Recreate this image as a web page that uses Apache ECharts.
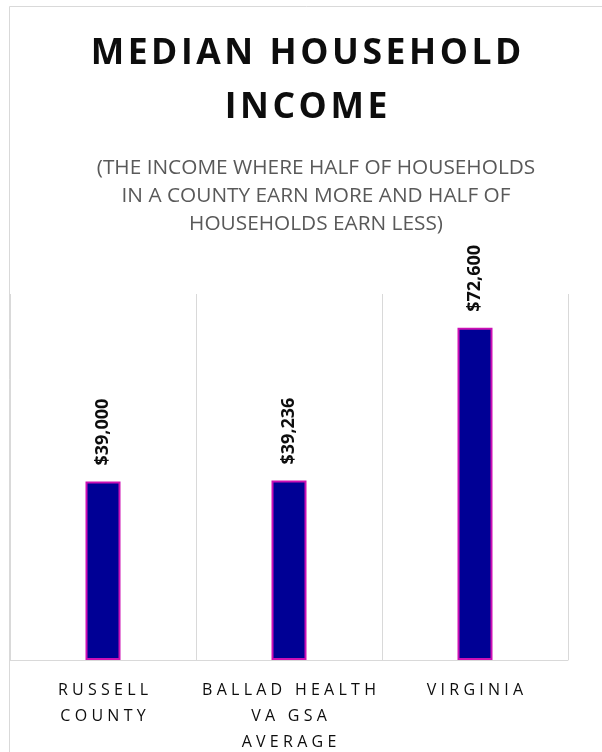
<!DOCTYPE html>
<html>
<head>
<meta charset="utf-8">
<script src="https://cdn.jsdelivr.net/npm/echarts@6/dist/echarts.min.js"></script>
<style>
html,body{margin:0;padding:0;background:#fff;}
#chart{width:602px;height:752px;}
</style>
</head>
<body>
<div id="chart"></div>
<script>
// ---- data ----
var categories = ["RUSSELL\nCOUNTY", "BALLAD HEALTH\nVA GSA\nAVERAGE", "VIRGINIA"];
var incomes = [39000, 39236, 72600];
var valueLabels = ["$39,000", "$39,236", "$72,600"];
var titleLines = ["MEDIAN HOUSEHOLD", "INCOME"];
var subtitleLines = ["(THE INCOME WHERE HALF OF HOUSEHOLDS", "IN A COUNTY EARN MORE AND HALF OF", "HOUSEHOLDS EARN LESS)"];

// spacing helper (emulates letter spacing using narrow spaces)
function spaced(s, sep) {
  return s.split("\n").map(function (line) { return line.split("").join(sep); }).join("\n");
}

var chart = echarts.init(document.getElementById('chart'), null, {renderer: 'canvas'});
var option = {
  animation: false,
  backgroundColor: '#ffffff',
  title: [
    {
      text: spaced(titleLines.join("\n"), "\u200A"),
      left: 306,
      top: 27,
      padding: 0,
      textAlign: 'center',
      textStyle: {
        fontFamily: 'Open Sans',
        fontWeight: 'bold',
        fontSize: 35.5,
        lineHeight: 54,
        color: '#0d0d0d'
      }
    },
    {
      text: subtitleLines.join("\n"),
      left: 316,
      top: 154,
      padding: 0,
      textAlign: 'center',
      textStyle: {
        fontFamily: 'Open Sans',
        fontWeight: 'normal',
        fontSize: 20.8,
        lineHeight: 28,
        color: '#595959'
      }
    }
  ],
  graphic: [
    {
      type: 'rect',
      shape: {x: 9.5, y: 6.5, width: 700, height: 800},
      style: {fill: 'none', stroke: '#d9d9d9', lineWidth: 1},
      silent: true,
      z: -1
    }
  ],
  grid: {left: 10, right: 34, top: 294, bottom: 92, outerBoundsMode: 'none', containLabel: false},
  xAxis: {
    type: 'category',
    data: categories,
    axisLine: {show: true, lineStyle: {color: '#d9d9d9', width: 1}},
    axisTick: {show: false},
    splitLine: {show: true, lineStyle: {color: '#d9d9d9', width: 1}},
    axisLabel: {
      interval: 0,
      margin: 17,
      fontFamily: 'Open Sans',
      fontSize: 16,
      lineHeight: 26,
      color: '#0d0d0d',
      formatter: function (v) { return spaced(v, "\u2009\u200A"); }
    }
  },
  yAxis: {
    type: 'value',
    min: 0,
    max: 80000,
    interval: 20000,
    show: false,
    splitLine: {show: false}
  },
  series: [
    {
      type: 'bar',
      data: incomes,
      barWidth: 35,
      itemStyle: {color: '#000095', borderColor: '#cc10b4', borderWidth: 2},
      label: {
        show: true,
        position: 'top',
        distance: 16,
        rotate: 90,
        align: 'left',
        verticalAlign: 'middle',
        fontFamily: 'Open Sans',
        fontWeight: 'bold',
        fontSize: 18,
        color: '#0d0d0d',
        formatter: function (p) { return valueLabels[p.dataIndex]; }
      }
    }
  ]
};
chart.setOption(option);
</script>
</body>
</html>
